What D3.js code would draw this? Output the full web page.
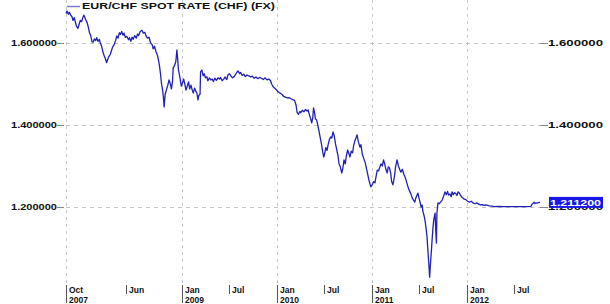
<!DOCTYPE html>
<html><head><meta charset="utf-8">
<script src="https://cdn.jsdelivr.net/npm/d3@7"></script>
<style>
body{margin:0;background:#fff}
svg{display:block}
text{font-family:"Liberation Sans",Arial,sans-serif;font-weight:bold}
</style>
</head><body>
<svg id="c" width="610" height="304"></svg>
<script>
const seriesName = "EUR/CHF SPOT RATE (CHF) (FX)";
const lastLabel = "1.211200";
const yTicks = [1.2, 1.4, 1.6];
const xTickDates = ["2007-10-13","2008-06-01","2009-01-01","2009-07-01","2010-01-01","2010-07-01","2011-01-01","2011-07-01","2012-01-01","2012-07-01"];
const xTickMonths = ["Oct","Jun","Jan","Jul","Jan","Jul","Jan","Jul","Jan","Jul"];
const xTickYears = ["2007","","2009","","2010","","2011","","2012",""];

const dates = [
"2007-10-13","2007-10-17","2007-10-22","2007-10-26","2007-10-31","2007-11-05","2007-11-09","2007-11-14","2007-11-19","2007-11-23","2007-11-28",
"2007-12-03","2007-12-07","2007-12-12","2007-12-17","2007-12-21","2007-12-27","2008-01-02","2008-01-07","2008-01-11","2008-01-16","2008-01-21",
"2008-01-25","2008-01-30","2008-02-04","2008-02-08","2008-02-13","2008-02-18","2008-02-22","2008-02-27","2008-03-03","2008-03-07","2008-03-12",
"2008-03-17","2008-03-20","2008-03-25","2008-03-31","2008-04-04","2008-04-09","2008-04-15","2008-04-21","2008-04-25","2008-04-30","2008-05-05",
"2008-05-09","2008-05-14","2008-05-19","2008-05-23","2008-05-28","2008-06-03","2008-06-09","2008-06-13","2008-06-18","2008-06-23","2008-06-27",
"2008-07-03","2008-07-09","2008-07-14","2008-07-18","2008-07-24","2008-07-31","2008-08-05","2008-08-11","2008-08-15","2008-08-21","2008-08-27",
"2008-09-02","2008-09-08","2008-09-12","2008-09-17","2008-09-22","2008-09-26","2008-09-30","2008-10-06","2008-10-10","2008-10-14","2008-10-17",
"2008-10-21","2008-10-24","2008-10-28","2008-11-03","2008-11-07","2008-11-12","2008-11-17","2008-11-21","2008-11-25","2008-11-28","2008-12-03",
"2008-12-08","2008-12-12","2008-12-15","2008-12-18","2008-12-23","2008-12-29","2009-01-02","2009-01-07","2009-01-12","2009-01-16","2009-01-21",
"2009-01-26","2009-01-30","2009-02-04","2009-02-09","2009-02-13","2009-02-18","2009-02-23","2009-02-27","2009-03-03","2009-03-06","2009-03-11",
"2009-03-13","2009-03-18","2009-03-23","2009-03-27","2009-04-01","2009-04-06","2009-04-10","2009-04-16","2009-04-21","2009-04-27","2009-05-01",
"2009-05-07","2009-05-13","2009-05-19","2009-05-25","2009-05-29","2009-06-04","2009-06-10","2009-06-15","2009-06-22","2009-06-26","2009-07-02",
"2009-07-08","2009-07-14","2009-07-20","2009-07-24","2009-07-30","2009-08-04","2009-08-10","2009-08-14","2009-08-20","2009-08-26","2009-09-01",
"2009-09-07","2009-09-14","2009-09-21","2009-09-28","2009-10-05","2009-10-12","2009-10-19","2009-10-26","2009-11-02","2009-11-09","2009-11-16",
"2009-11-23","2009-11-30","2009-12-07","2009-12-11","2009-12-16","2009-12-22","2009-12-29","2010-01-05","2010-01-12","2010-01-19","2010-01-26",
"2010-02-02","2010-02-09","2010-02-16","2010-02-23","2010-03-02","2010-03-09","2010-03-15","2010-03-19","2010-03-24","2010-03-29","2010-04-02",
"2010-04-08","2010-04-14","2010-04-20","2010-04-26","2010-04-30","2010-05-05","2010-05-10","2010-05-14","2010-05-18","2010-05-21","2010-05-25",
"2010-05-28","2010-06-02","2010-06-07","2010-06-11","2010-06-16","2010-06-21","2010-06-25","2010-06-29","2010-07-02","2010-07-07","2010-07-12",
"2010-07-16","2010-07-21","2010-07-26","2010-07-30","2010-08-04","2010-08-09","2010-08-13","2010-08-18","2010-08-23","2010-08-27","2010-09-01",
"2010-09-06","2010-09-10","2010-09-15","2010-09-20","2010-09-24","2010-09-29","2010-10-04","2010-10-08","2010-10-13","2010-10-18","2010-10-22",
"2010-10-27","2010-11-01","2010-11-04","2010-11-09","2010-11-15","2010-11-19","2010-11-24","2010-11-30","2010-12-06","2010-12-10","2010-12-15",
"2010-12-20","2010-12-27","2011-01-03","2011-01-07","2011-01-12","2011-01-17","2011-01-21","2011-01-26","2011-01-31","2011-02-04","2011-02-09",
"2011-02-14","2011-02-18","2011-02-23","2011-02-28","2011-03-04","2011-03-09","2011-03-14","2011-03-17","2011-03-22","2011-03-28","2011-04-01",
"2011-04-07","2011-04-12","2011-04-18","2011-04-22","2011-04-27","2011-05-03","2011-05-09","2011-05-13","2011-05-19","2011-05-24","2011-05-30",
"2011-06-03","2011-06-08","2011-06-14","2011-06-17","2011-06-22","2011-06-26","2011-06-30","2011-07-05","2011-07-08","2011-07-12","2011-07-15",
"2011-07-20","2011-07-23","2011-07-27","2011-07-31","2011-08-04","2011-08-08","2011-08-10","2011-08-13","2011-08-17","2011-08-20","2011-08-23",
"2011-08-26","2011-08-31","2011-09-02","2011-09-05","2011-09-07","2011-09-11","2011-09-16","2011-09-21","2011-09-27","2011-10-02","2011-10-08",
"2011-10-13","2011-10-18","2011-10-22","2011-10-27","2011-11-01","2011-11-04","2011-11-09","2011-11-14","2011-11-18","2011-11-23","2011-11-27",
"2011-12-02","2011-12-07","2011-12-12","2011-12-19","2011-12-27","2012-01-03","2012-01-10","2012-01-17","2012-01-24","2012-01-31","2012-02-07",
"2012-02-14","2012-02-21","2012-02-28","2012-03-06","2012-03-13","2012-03-20","2012-03-27","2012-04-05","2012-04-15","2012-05-01","2012-05-20",
"2012-06-10","2012-07-01","2012-07-25","2012-08-15","2012-09-02","2012-09-07","2012-09-11","2012-09-14","2012-09-18","2012-09-21","2012-09-26",
"2012-10-01","2012-10-07"
];
const values = [
1.672,1.678,1.670,1.675,1.668,1.664,1.655,1.662,1.648,1.640,1.636,
1.647,1.655,1.652,1.663,1.668,1.658,1.650,1.638,1.625,1.618,1.603,
1.602,1.610,1.606,1.613,1.604,1.609,1.600,1.592,1.578,1.570,1.562,
1.552,1.558,1.566,1.572,1.580,1.590,1.596,1.607,1.617,1.612,1.625,
1.621,1.628,1.619,1.624,1.614,1.616,1.608,1.613,1.604,1.614,1.609,
1.618,1.612,1.622,1.618,1.628,1.631,1.624,1.626,1.618,1.612,1.614,
1.600,1.596,1.586,1.592,1.580,1.574,1.566,1.545,1.525,1.500,1.490,
1.470,1.444,1.475,1.488,1.497,1.510,1.500,1.488,1.505,1.540,1.545,
1.555,1.583,1.562,1.535,1.518,1.495,1.502,1.512,1.498,1.485,1.495,
1.505,1.488,1.497,1.485,1.478,1.490,1.482,1.478,1.461,1.472,1.475,
1.530,1.534,1.520,1.525,1.515,1.518,1.508,1.515,1.510,1.512,1.506,
1.514,1.509,1.515,1.512,1.516,1.508,1.512,1.517,1.511,1.522,1.525,
1.519,1.515,1.518,1.522,1.528,1.532,1.525,1.528,1.521,1.524,1.518,
1.522,1.520,1.517,1.519,1.514,1.517,1.513,1.516,1.514,1.511,1.515,
1.510,1.512,1.508,1.500,1.494,1.490,1.486,1.481,1.478,1.475,1.470,
1.468,1.466,1.467,1.464,1.462,1.460,1.448,1.430,1.426,1.433,1.430,
1.436,1.432,1.438,1.434,1.437,1.425,1.415,1.405,1.418,1.442,1.430,
1.415,1.412,1.398,1.385,1.368,1.352,1.335,1.322,1.328,1.345,1.338,
1.352,1.365,1.371,1.368,1.383,1.372,1.355,1.340,1.325,1.305,1.298,
1.283,1.292,1.315,1.305,1.325,1.339,1.330,1.322,1.336,1.332,1.350,
1.362,1.370,1.376,1.360,1.346,1.352,1.330,1.318,1.307,1.295,1.280,
1.265,1.249,1.256,1.262,1.259,1.278,1.290,1.288,1.298,1.305,1.300,
1.315,1.306,1.292,1.283,1.298,1.295,1.280,1.262,1.254,1.275,1.298,
1.315,1.300,1.290,1.285,1.292,1.280,1.271,1.262,1.249,1.240,1.232,
1.224,1.218,1.212,1.220,1.228,1.234,1.222,1.210,1.200,1.205,1.190,
1.178,1.168,1.150,1.127,1.088,1.050,1.029,1.060,1.095,1.125,1.151,
1.170,1.185,1.150,1.112,1.185,1.210,1.208,1.212,1.217,1.225,1.237,
1.230,1.238,1.229,1.232,1.225,1.237,1.230,1.235,1.233,1.228,1.237,
1.234,1.228,1.224,1.220,1.218,1.214,1.212,1.214,1.210,1.208,1.210,
1.207,1.205,1.206,1.204,1.205,1.204,1.203,1.202,1.201,1.2012,1.2010,
1.2008,1.2008,1.2007,1.2010,1.2015,1.2070,1.2095,1.2120,1.2085,1.2100,1.2095,
1.2105,1.2112
];

const parse = d3.timeParse("%Y-%m-%d");
const data = dates.map((d, i) => ({date: parse(d), value: values[i]}));

const svg = d3.select("#c");
svg.append("rect").attr("width", 610).attr("height", 304).attr("fill", "#fff");

const L = 66, R = 540, T = 0, B = 285;
const x = d3.scaleTime().domain(d3.extent(data, d => d.date)).range([L, R]);
const y = d3.scaleLinear().domain([1.2, 1.6]).range([207, 43]);
const fmt = d3.format(".6f");

// horizontal grid
svg.append("g").selectAll("line").data(yTicks).join("line")
  .attr("x1", L).attr("x2", R)
  .attr("y1", d => Math.round(y(d)) + 0.5).attr("y2", d => Math.round(y(d)) + 0.5)
  .attr("stroke", "#c4c4c4").attr("stroke-width", 1).attr("stroke-dasharray", "4,4");

// x ticks
const xt = xTickDates.map((d, i) => ({date: parse(d), m: xTickMonths[i], yr: xTickYears[i]}));
const gx = svg.append("g");
gx.selectAll("line.grid").data(xt.filter(d => d.yr)).join("line").attr("class", "grid")
  .attr("x1", d => Math.round(x(d.date)) + 0.5).attr("x2", d => Math.round(x(d.date)) + 0.5)
  .attr("y1", T).attr("y2", B)
  .attr("stroke", "#c8c8c8").attr("stroke-width", 1).attr("stroke-dasharray", "3,4");
gx.selectAll("line.tick").data(xt).join("line").attr("class", "tick")
  .attr("x1", d => Math.round(x(d.date)) + 0.5).attr("x2", d => Math.round(x(d.date)) + 0.5)
  .attr("y1", B).attr("y2", d => d.yr ? 303 : 294)
  .attr("stroke", "#555").attr("stroke-width", 1);
gx.selectAll("text.m").data(xt).join("text").attr("class", "m")
  .attr("x", d => Math.round(x(d.date)) + 3).attr("y", 292.7)
  .attr("font-size", 8.5).attr("fill", "#111").text(d => d.m);
gx.selectAll("text.yr").data(xt.filter(d => d.yr)).join("text").attr("class", "yr")
  .attr("x", d => Math.round(x(d.date)) + 3).attr("y", 302.7)
  .attr("font-size", 8.5).attr("fill", "#111").text(d => d.yr);

// left axis
const gl = svg.append("g");
gl.selectAll("line").data(yTicks).join("line")
  .attr("x1", 57).attr("x2", 64)
  .attr("y1", d => Math.round(y(d)) + 0.5).attr("y2", d => Math.round(y(d)) + 0.5)
  .attr("stroke", "#888");
gl.selectAll("text").data(yTicks).join("text")
  .attr("x", 11).attr("y", d => y(d) + 3.3)
  .attr("font-size", 8.5).attr("fill", "#111")
  .attr("textLength", 46).attr("lengthAdjust", "spacingAndGlyphs")
  .text(d => fmt(d));

// right axis
const gr = svg.append("g");
gr.selectAll("line").data(yTicks).join("line")
  .attr("x1", 540).attr("x2", 548)
  .attr("y1", d => Math.round(y(d)) + 0.5).attr("y2", d => Math.round(y(d)) + 0.5)
  .attr("stroke", "#888");
gr.selectAll("text").data(yTicks).join("text")
  .attr("x", 548).attr("y", d => y(d) + 3.3)
  .attr("font-size", 8.5).attr("fill", "#111")
  .attr("textLength", 55).attr("lengthAdjust", "spacingAndGlyphs")
  .text(d => fmt(d));

// series line
svg.append("path").datum(data)
  .attr("d", d3.line().x(d => x(d.date)).y(d => y(d.value)))
  .attr("fill", "none").attr("stroke", "#2020b4").attr("stroke-width", 1.3)
  .attr("stroke-linejoin", "round");

// last value box
const last = data[data.length - 1];
const ly = y(last.value);
svg.append("rect").attr("x", 549).attr("y", ly - 5.5).attr("width", 54).attr("height", 11)
  .attr("fill", "#1818e8");
svg.append("text").attr("x", 550).attr("y", ly + 3.3)
  .attr("font-size", 8.5).attr("fill", "#fff")
  .attr("textLength", 51).attr("lengthAdjust", "spacingAndGlyphs")
  .text(lastLabel);

// legend
svg.append("line").attr("x1", 67).attr("x2", 80).attr("y1", 6.5).attr("y2", 6.5)
  .attr("stroke", "#7a7ad4").attr("stroke-width", 1.5);
svg.append("text").attr("x", 82).attr("y", 9.4)
  .attr("font-size", 8.5).attr("fill", "#111")
  .attr("textLength", 193).attr("lengthAdjust", "spacingAndGlyphs")
  .text(seriesName);
</script>
</body></html>
